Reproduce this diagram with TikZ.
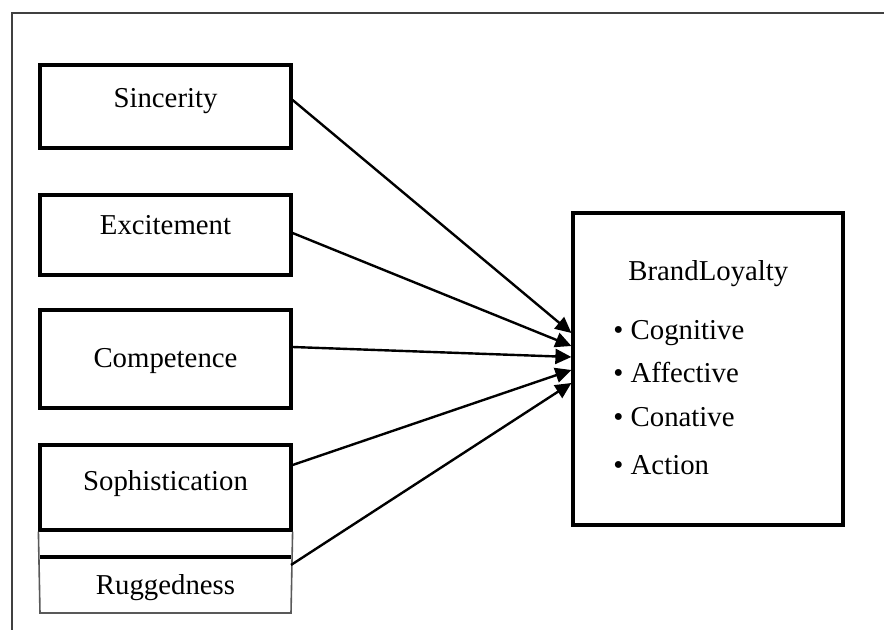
\documentclass[tikz,border=0pt]{standalone}
\usepackage{fontspec}
\setmainfont{Liberation Serif}
\usetikzlibrary{arrows.meta}

\tikzset{
  boxline/.style={line width=1.6pt, black},
  thinline/.style={line width=.8pt, black!65},
  factor/.style={draw, boxline, minimum width=125.5pt, inner sep=0pt},
  txt/.style={anchor=base, font=\fontsize{14.4}{17}\selectfont, inner sep=0pt},
  arr/.style={line width=1.2pt, -{Triangle[length=8pt,width=7.5pt]}}
}

\begin{document}
\begin{tikzpicture}[x=.5pt, y=-.5pt]
      \useasboundingbox (0,0) rectangle (884,630);
      \draw[thinline, black!75] (12,630) -- (12,13) -- (884,13);
      % factor boxes
      \node (sinc) at (165.5,106.5) [factor, minimum height=41.5pt] {};
      \draw (165.5,108) node[txt] {Sincerity};
      \node (exc) at (165.5,235) [factor, minimum height=40pt] {};
      \draw (165.5,235) node[txt] {Excitement};
      \node (comp) at (165.5,359) [factor, minimum height=49pt] {};
      \draw (165.5,368) node[txt] {Competence};
      \node (soph) at (165.5,487.5) [factor, minimum height=42.5pt] {};
      \draw (165.5,491) node[txt] {Sophistication};
      \node (rugg) at (165.5,585) [minimum width=125.5pt, minimum height=28pt, inner sep=0pt, outer sep=0pt] {};
      \draw (165.5,595) node[txt] {Ruggedness};
      \draw[thinline] (soph.south west) -- (rugg.south west) -- (rugg.south east) -- (soph.south east);
      \draw[boxline] (rugg.north west) -- (rugg.north east);
      % outcome box
      \node (loyal) at (708,369) [draw, boxline, minimum width=135pt, minimum height=156pt] {};
      \draw (628,281) node[txt, anchor=base west] {BrandLoyalty};
      \draw (613,340) node[txt, anchor=base west] {\textbullet\ Cognitive};
      \draw (613,383) node[txt, anchor=base west] {\textbullet\ Affective};
      \draw (613,427) node[txt, anchor=base west] {\textbullet\ Conative};
      \draw (613,475) node[txt, anchor=base west] {\textbullet\ Action};
      % paths
      \draw[arr] ([yshift=3.25pt]sinc.east) -- ([yshift=18pt]loyal.west);
      \draw[arr] ([yshift=1pt]exc.east) -- ([yshift=11.5pt]loyal.west);
      \draw[arr] ([yshift=6pt]comp.east) -- ([yshift=6pt]loyal.west);
      \draw[arr] ([yshift=11.25pt]soph.east) -- ([yshift=-.5pt]loyal.west);
      \draw[arr] ([yshift=10pt]rugg.east) -- ([yshift=-7pt]loyal.west);
    \end{tikzpicture}
\end{document}
